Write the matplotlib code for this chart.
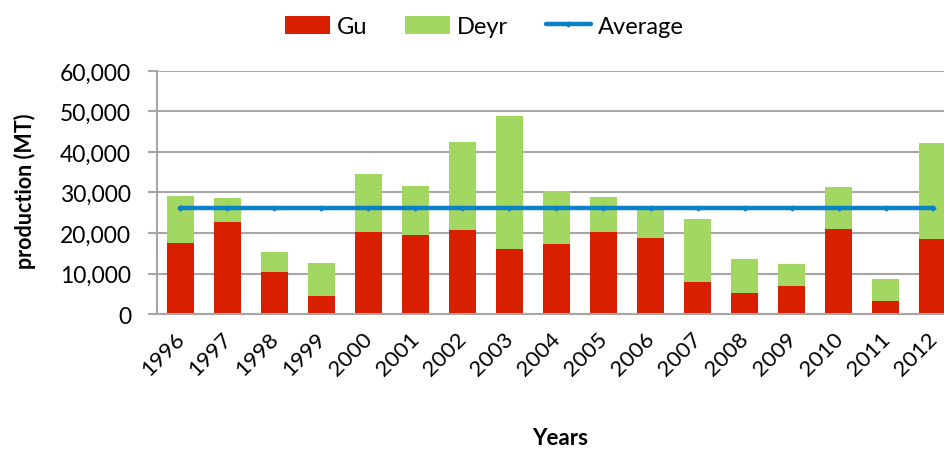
import numpy as np
import matplotlib
matplotlib.use("Agg")
import matplotlib.pyplot as plt
import matplotlib.transforms as mtransforms
from matplotlib.ticker import FuncFormatter

plt.rcParams['font.family'] = ['Lato', 'DejaVu Sans']

years = [str(y) for y in range(1996, 2013)]
gu = [17450, 22720, 10290, 4530, 20330, 19420, 20740, 16050, 17370,
      20330, 18680, 7820, 5270, 6910, 21070, 3210, 18600]
total = [29220, 28560, 15230, 12590, 34570, 31690, 42550, 48970, 30290,
         28810, 25900, 23460, 13500, 12430, 31360, 8640, 42220]
deyr = [t - g for t, g in zip(total, gu)]
average = 26100

red = '#D82000'
green = '#A2D762'
blue = '#0A80C8'
grid = '#A6A6A6'

fig = plt.figure(figsize=(9.44, 4.52), dpi=100)
ax = fig.add_axes([0.166, 0.303, 0.834, 0.538])

x = np.arange(len(years))
h_gu = ax.bar(x, gu, width=0.57, color=red, label='Gu', zorder=2)
h_deyr = ax.bar(x, deyr, width=0.57, bottom=gu, color=green, label='Deyr', zorder=2)
h_avg, = ax.plot(x, [average] * len(x), color=blue, lw=3.2, solid_capstyle='round',
                 marker='D', markersize=2.5, label='Average', zorder=3)

ax.set_ylim(0, 60000)
ax.set_xlim(-0.5, 16.24)
ax.set_yticks(range(0, 60001, 10000))
ax.yaxis.set_major_formatter(FuncFormatter(lambda v, p: f'{int(v):,}'))
ax.yaxis.grid(True, color=grid, lw=1.5, zorder=0)
ax.set_axisbelow(True)

ax.set_xticks(x)
ax.set_xticklabels(years, rotation=45, ha='right', va='top',
                   rotation_mode='anchor')
ax.tick_params(axis='x', length=0, labelsize=16, pad=10)
ax.tick_params(axis='y', length=6.5, width=1.5, color=grid, labelsize=16.5, pad=12)

# nudge the rotated year labels a little to the left
shift = mtransforms.ScaledTranslation(-6 / 100, 0, fig.dpi_scale_trans)
for lab in ax.get_xticklabels():
    lab.set_transform(lab.get_transform() + shift)

for s in ['top', 'right']:
    ax.spines[s].set_visible(False)
for s in ['left', 'bottom']:
    ax.spines[s].set_color(grid)
    ax.spines[s].set_linewidth(1.5)

ax.set_ylabel('production (MT)', fontsize=15.5, fontweight='bold')
ax.yaxis.set_label_coords(-0.153, 0.51)
fig.text(0.593, 0.015, 'Years', fontsize=16, fontweight='bold', ha='center')

fig.legend([h_gu, h_deyr, h_avg], ['Gu', 'Deyr', 'Average'],
           loc='upper center', bbox_to_anchor=(0.513, 1.01), ncol=3,
           frameon=False, fontsize=17, handlelength=1.9, handleheight=0.8,
           handletextpad=0.3, columnspacing=1.6)

fig.savefig('out.png', dpi=100)
